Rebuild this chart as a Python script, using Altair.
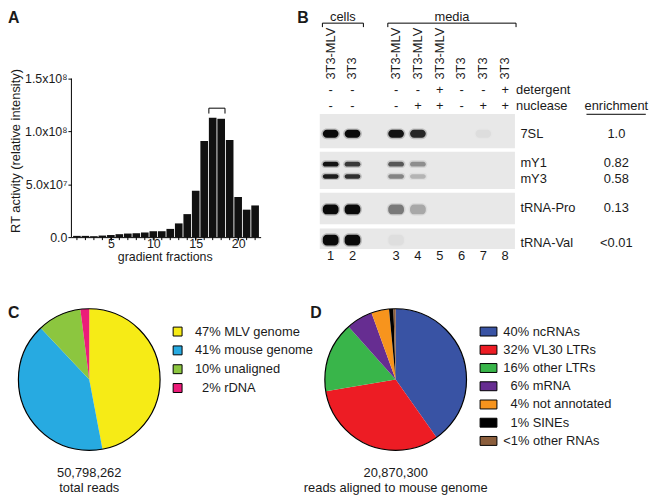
import altair as alt
import pandas as pd

FONT = "Liberation Sans"
INK = "#1a1a1a"
PAD = "\u200b\u2007"  # non-trimmable figure space used to indent single-digit percentages

# ---------------- Panel A : RT activity across gradient fractions ----------------
fractions = list(range(1, 23))
rt_activity = [1.2e6, 1.2e6, 0.9e6, 1.5e6, 2.0e6, 2.8e6, 3.4e6, 3.7e6, 4.4e6, 5.6e6,
               5.6e6, 7.8e6, 13.0e6, 21.8e6, 44.0e6, 91.0e6, 113.0e6, 112.0e6, 92.0e6,
               38.0e6, 26.0e6, 30.0e6]
y_tick_values = [0, 5e7, 1e8, 1.5e8]
y_tick_labels = ["0.0", "5.0x10⁷", "1.0x10⁸", "1.5x10⁸"]
x_labelled_fractions = [5, 10, 15, 20]
pooled_fractions = [17, 18]

# ---------------- Panel B : northern blot ----------------
lanes = [1, 2, 3, 4, 5, 6, 7, 8]
lane_sample = ["3T3-MLV", "3T3", "3T3-MLV", "3T3-MLV", "3T3-MLV", "3T3", "3T3", "3T3"]
lane_source = ["cells", "cells", "media", "media", "media", "media", "media", "media"]
lane_detergent = ["-", "-", "-", "-", "+", "-", "-", "+"]
lane_nuclease = ["-", "-", "-", "+", "+", "-", "+", "+"]
treatments = ["detergent", "nuclease"]
rna_names = ["7SL", "mY1", "mY3", "tRNA-Pro", "tRNA-Val"]
rna_enrichment = ["1.0", "0.82", "0.58", "0.13", "<0.01"]
signal_7SL = [1.0, 1.0, 0.95, 0.85, 0.0, 0.0, 0.04, 0.0]
signal_mY1 = [0.95, 0.75, 0.6, 0.35, 0.0, 0.0, 0.0, 0.0]
signal_mY3 = [0.9, 0.8, 0.4, 0.2, 0.0, 0.0, 0.0, 0.0]
signal_tRNA_Pro = [1.0, 1.0, 0.45, 0.25, 0.0, 0.0, 0.0, 0.0]
signal_tRNA_Val = [1.0, 1.0, 0.03, 0.0, 0.0, 0.0, 0.0, 0.0]
band_migration = [124.7, 155.3, 167.7, 201.0, 232.0]
band_thickness = [8.0, 5.0, 4.5, 10.0, 11.0]
label_migration = [125.0, 154.5, 170.0, 200.0, 235.0]
blot_probe = ["7SL", "mY1/mY3", "tRNA-Pro", "tRNA-Val"]
blot_top = [104.7, 142.7, 184.3, 220.3]
blot_bottom = [139.3, 180.3, 216.0, 241.0]

# ---------------- Panel C : all reads ----------------
c_labels = ["47% MLV genome", "41% mouse genome", "10% unaligned", PAD + "2% rDNA"]
c_values = [47, 41, 10, 2]
c_colors = ["#F6EB16", "#27AAE1", "#8CC63F", "#EC1C79"]
c_caption = "50,798,262\ntotal reads"

# ---------------- Panel D : reads aligned to mouse genome ----------------
d_labels = ["40% ncRNAs", "32% VL30 LTRs", "16% other LTRs", PAD + "6% mRNA",
            PAD + "4% not annotated", PAD + "1% SINEs", "<1% other RNAs"]
d_values = [40, 32, 16, 6, 4, 1, 0.5]
d_colors = ["#3953A4", "#ED1C24", "#39B54A", "#662D91", "#F7941D", "#000000", "#8B5E3C"]
d_caption = "20,870,300\nreads aligned to mouse genome"

# =============================== Panel A ===============================
A_W, A_H = 191, 229
A_AXIS_PX = 160
y_dom_max = y_tick_values[-1] * A_H / A_AXIS_PX
xA = alt.Scale(domain=[0.35, 22.65], nice=False, zero=False)
yA = alt.Scale(domain=[0, y_dom_max], nice=False, zero=True)
y_label_expr = "".join(f"datum.value == {v} ? '{l}' : " for v, l in zip(y_tick_values, y_tick_labels)) + "''"
X_TITLE = "gradient fractions"
Y_TITLE = "RT activity (relative intensity)"
HALF_BAR = 0.45

dfA = pd.DataFrame({"fraction": fractions, "rt": rt_activity})
bars = alt.Chart(dfA).transform_calculate(
    x0=f"datum.fraction - {HALF_BAR}", x1=f"datum.fraction + {HALF_BAR}"
).mark_rect(color="#111111").encode(
    x=alt.X("x0:Q", scale=xA, title=None,
            axis=alt.Axis(values=x_labelled_fractions, format="d", labelAngle=0, tickSize=3,
                          labelPadding=-2.5, labelOverlap=False, labelFlush=False,
                          labelFontSize=12.5)),
    x2="x1:Q",
    y=alt.Y("rt:Q", scale=yA, title=None,
            axis=alt.Axis(values=y_tick_values, labelExpr=y_label_expr, domain=False,
                          tickSize=3.5, labelPadding=1, labelFontSize=12.5,
                          labelOverlap=False)),
    y2=alt.datum(0),
)
minor_ticks = alt.Chart(dfA).mark_rule(color="black").encode(
    x=alt.X("fraction:Q", scale=xA, title=None), y=alt.value(A_H), y2=alt.value(A_H + 3))
yline = alt.Chart(pd.DataFrame({"lo": [y_tick_values[0]], "hi": [y_tick_values[-1]]})).mark_rule(
    color="black").encode(x=alt.value(0), y=alt.Y("lo:Q", scale=yA, title=None), y2="hi:Q")

peak = max(rt_activity)
dfBr = pd.DataFrame({"first": [pooled_fractions[0] - HALF_BAR], "last": [pooled_fractions[-1] + HALF_BAR],
                     "top": [peak * 1.08], "foot": [peak * 1.035]})
br_h = alt.Chart(dfBr).mark_rule(color="black").encode(
    x=alt.X("first:Q", scale=xA, title=None), x2="last:Q",
    y=alt.Y("top:Q", scale=yA, title=None))
br_l = alt.Chart(dfBr).mark_rule(color="black").encode(
    x=alt.X("first:Q", scale=xA, title=None),
    y=alt.Y("top:Q", scale=yA, title=None), y2="foot:Q")
br_r = alt.Chart(dfBr).mark_rule(color="black").encode(
    x=alt.X("last:Q", scale=xA, title=None),
    y=alt.Y("top:Q", scale=yA, title=None), y2="foot:Q")
x_title = alt.Chart(pd.DataFrame({"t": [X_TITLE]})).mark_text(
    fontSize=12.5, baseline="middle", align="center").encode(
    text="t:N", x=alt.value(94.7), y=alt.value(A_H + 20))
y_title = alt.Chart(pd.DataFrame({"t": [Y_TITLE]})).mark_text(
    fontSize=13, baseline="middle", align="center", angle=270).encode(
    text="t:N", x=alt.value(-56), y=alt.value(142))
letterA = alt.Chart(pd.DataFrame({"panel": ["A"]})).mark_text(
    align="left", baseline="top", fontSize=16, fontWeight="bold").encode(
    text="panel:N", x=alt.value(-64), y=alt.value(0))

panel_A = alt.layer(bars, minor_ticks, yline, br_h, br_l, br_r, x_title, y_title,
                    letterA).properties(width=A_W, height=A_H)

# =============================== Panel B ===============================
B_W, B_H = 197, 241
xB = alt.Scale(domain=[0.5, 9.45], nice=False, zero=False)
yB = alt.Scale(domain=[0, B_H], nice=False, zero=False, reverse=True)
ROW_GROUP, ROW_BRACKET, ROW_BRACKET_FOOT = 6.5, 13, 17
ROW_SAMPLE, ROW_DET, ROW_NUC, ROW_LANE = 70, 81, 97, 248
COL_TREAT, COL_RNA, COL_ENR = 9.5, 9.7, 14.1
slot_expr = "datum.lane + (datum.source == 'media' ? 1 : 0)"

dfLanes = pd.DataFrame({"lane": lanes, "sample": lane_sample, "source": lane_source,
                        "detergent": lane_detergent, "nuclease": lane_nuclease})
signals = [signal_7SL, signal_mY1, signal_mY3, signal_tRNA_Pro, signal_tRNA_Val]
band_rows = []
for rna, pos, thick, sig in zip(rna_names, band_migration, band_thickness, signals):
    for lane, src, v in zip(lanes, lane_source, sig):
        if v > 0:
            band_rows.append({"rna": rna, "lane": lane, "source": src, "pos": pos,
                              "thick": thick, "intensity": v})
dfBands = pd.DataFrame(band_rows)

dfBlots = pd.DataFrame({"probe": blot_probe, "top": blot_top, "bottom": blot_bottom,
                        "left": [0.5] * 4, "right": [9.45] * 4})
blots = alt.Chart(dfBlots).mark_rect(color="#e8e8e8").encode(
    x=alt.X("left:Q", scale=xB, axis=None), x2="right:Q",
    y=alt.Y("top:Q", scale=yB, axis=None), y2="bottom:Q")

band_base = alt.Chart(dfBands).transform_calculate(slot=slot_expr)
halo = band_base.transform_calculate(
    x0="datum.slot - 0.43", x1="datum.slot + 0.43",
    y0="datum.pos - datum.thick/2 - 1.4", y1="datum.pos + datum.thick/2 + 1.4",
    op="datum.intensity * 0.22").mark_rect(color="#111111", cornerRadius=6).encode(
    x=alt.X("x0:Q", scale=xB, axis=None), x2="x1:Q",
    y=alt.Y("y0:Q", scale=yB, axis=None), y2="y1:Q",
    opacity=alt.Opacity("op:Q", scale=None, legend=None))
core = band_base.transform_calculate(
    x0="datum.slot - 0.36", x1="datum.slot + 0.36",
    y0="datum.pos - datum.thick/2", y1="datum.pos + datum.thick/2").mark_rect(
    color="#0a0a0a", cornerRadius=4).encode(
    x=alt.X("x0:Q", scale=xB, axis=None), x2="x1:Q",
    y=alt.Y("y0:Q", scale=yB, axis=None), y2="y1:Q",
    opacity=alt.Opacity("intensity:Q", scale=None, legend=None))

dfLanes["row_sample"] = ROW_SAMPLE
dfLanes["row_det"] = ROW_DET
dfLanes["row_nuc"] = ROW_NUC
dfLanes["row_lane"] = ROW_LANE
lane_base = alt.Chart(dfLanes).transform_calculate(slot=slot_expr)
sample_txt = lane_base.mark_text(angle=270, align="left", baseline="middle", fontSize=13).encode(
    x=alt.X("slot:Q", scale=xB, axis=None), y=alt.Y("row_sample:Q", scale=yB, axis=None),
    text="sample:N")
det_txt = lane_base.mark_text(baseline="middle", fontSize=13).encode(
    x=alt.X("slot:Q", scale=xB, axis=None), y=alt.Y("row_det:Q", scale=yB, axis=None),
    text="detergent:N")
nuc_txt = lane_base.mark_text(baseline="middle", fontSize=13).encode(
    x=alt.X("slot:Q", scale=xB, axis=None), y=alt.Y("row_nuc:Q", scale=yB, axis=None),
    text="nuclease:N")
lane_txt = lane_base.mark_text(baseline="middle", fontSize=13).encode(
    x=alt.X("slot:Q", scale=xB, axis=None), y=alt.Y("row_lane:Q", scale=yB, axis=None),
    text="lane:N")
treat_txt = alt.Chart(pd.DataFrame({"treatment": treatments, "row": [ROW_DET, ROW_NUC],
                                    "col": [COL_TREAT, COL_TREAT]})).mark_text(
    align="left", baseline="middle", fontSize=13).encode(
    x=alt.X("col:Q", scale=xB, axis=None), y=alt.Y("row:Q", scale=yB, axis=None),
    text="treatment:N")

grp = lane_base.transform_aggregate(first="min(slot)", last="max(slot)", groupby=["source"]).transform_calculate(
    start="datum.first - 0.38", end="datum.last + 0.5",
    mid="(datum.first - 0.38 + datum.last + 0.5) / 2",
    r_top=str(ROW_BRACKET), r_foot=str(ROW_BRACKET_FOOT), r_text=str(ROW_GROUP))
grp_h = grp.mark_rule(color="black").encode(
    x=alt.X("start:Q", scale=xB, axis=None), x2="end:Q",
    y=alt.Y("r_top:Q", scale=yB, axis=None))
grp_l = grp.mark_rule(color="black").encode(
    x=alt.X("start:Q", scale=xB, axis=None),
    y=alt.Y("r_top:Q", scale=yB, axis=None), y2="r_foot:Q")
grp_r = grp.mark_rule(color="black").encode(
    x=alt.X("end:Q", scale=xB, axis=None),
    y=alt.Y("r_top:Q", scale=yB, axis=None), y2="r_foot:Q")
grp_t = grp.mark_text(baseline="middle", fontSize=13).encode(
    x=alt.X("mid:Q", scale=xB, axis=None), y=alt.Y("r_text:Q", scale=yB, axis=None),
    text="source:N")

dfRNA = pd.DataFrame({"rna": rna_names, "label_pos": label_migration, "enrichment": rna_enrichment,
                      "col_rna": COL_RNA, "col_enr": COL_ENR})
rna_txt = alt.Chart(dfRNA).mark_text(align="left", baseline="middle", fontSize=13).encode(
    x=alt.X("col_rna:Q", scale=xB, axis=None), y=alt.Y("label_pos:Q", scale=yB, axis=None),
    text="rna:N")
enr_txt = alt.Chart(dfRNA).mark_text(align="center", baseline="middle", fontSize=13).encode(
    x=alt.X("col_enr:Q", scale=xB, axis=None), y=alt.Y("label_pos:Q", scale=yB, axis=None),
    text="enrichment:N")
dfHead = pd.DataFrame({"h": ["enrichment"], "col": [COL_ENR], "row": [ROW_NUC],
                       "u0": [12.73], "u1": [15.45], "urow": [ROW_NUC + 8]})
enr_head = alt.Chart(dfHead).mark_text(align="center", baseline="middle", fontSize=13).encode(
    x=alt.X("col:Q", scale=xB, axis=None), y=alt.Y("row:Q", scale=yB, axis=None), text="h:N")
enr_line = alt.Chart(dfHead).mark_rule(color="black").encode(
    x=alt.X("u0:Q", scale=xB, axis=None), x2="u1:Q", y=alt.Y("urow:Q", scale=yB, axis=None))
letterB = alt.Chart(pd.DataFrame({"panel": ["B"]})).mark_text(
    align="left", baseline="top", fontSize=16, fontWeight="bold").encode(
    text="panel:N", x=alt.value(-22.7), y=alt.value(0))

panel_B = alt.layer(blots, halo, core, sample_txt, det_txt, nuc_txt, lane_txt, treat_txt,
                    grp_h, grp_l, grp_r, grp_t, rna_txt, enr_txt, enr_head, enr_line,
                    letterB).properties(width=B_W, height=B_H)


# =============================== Panels C, D ===============================
PIE_H, PIE_R = 143, 71.5


def pie(letter, labels, values, colors, caption, view_w, symbol_type, symbol_size,
        legend_x, legend_y, label_offset, row_padding, letter_x):
    df = pd.DataFrame({"category": labels, "share": values, "order": list(range(len(labels)))})
    arcs = alt.Chart(df).mark_arc(radius=PIE_R).encode(
        theta=alt.Theta("share:Q", stack=True),
        color=alt.Color("category:N", sort=labels,
                        scale=alt.Scale(domain=labels, range=colors),
                        legend=alt.Legend(orient="none", legendX=legend_x, legendY=legend_y,
                                          title=None, symbolType=symbol_type,
                                          symbolSize=symbol_size, symbolStrokeColor="black",
                                          symbolStrokeWidth=1, symbolOpacity=1,
                                          labelFontSize=13, labelOffset=label_offset,
                                          rowPadding=row_padding, padding=0, labelLimit=400,
                                          labelColor=INK)),
        order=alt.Order("order:Q"))
    outline = alt.Chart(pd.DataFrame({"outline": [1]})).mark_point(
        shape="circle", size=(2 * PIE_R) ** 2, filled=False, stroke="black",
        strokeWidth=1.2, opacity=1).encode(x=alt.value(view_w / 2), y=alt.value(PIE_H / 2))
    cap = alt.Chart(pd.DataFrame({"caption": [caption]})).mark_text(
        align="center", baseline="top", fontSize=13, lineBreak="\n", lineHeight=15).encode(
        text="caption:N", x=alt.value(view_w / 2), y=alt.value(159.5))
    let = alt.Chart(pd.DataFrame({"panel": [letter]})).mark_text(
        align="left", baseline="top", fontSize=16, fontWeight="bold").encode(
        text="panel:N", x=alt.value(letter_x), y=alt.value(-4))
    return alt.layer(arcs, outline, cap, let).properties(width=view_w, height=PIE_H)


panel_C = pie("C", c_labels, c_values, c_colors, c_caption, 36, "square", 81,
              100.7, 16.5, 11, 5, -64)
panel_D = pie("D", d_labels, d_values, d_colors, d_caption, 153.2, "M-1,-0.53H1V0.53H-1Z", 289,
              161.3, 14, 6, 2.4, -9.7)

chart = alt.concat(panel_A, panel_B, panel_C, panel_D, columns=2,
                   spacing={"row": 60.3, "column": 59.7}, bounds="flush", align="each"
                   ).resolve_scale(color="independent", theta="independent").properties(
    padding=0
).configure(font=FONT).configure_view(stroke=None).configure_axis(
    grid=False, labelColor=INK, titleColor=INK, domainColor="black", tickColor="black",
    labelFont=FONT, titleFont=FONT
).configure_text(color=INK, font=FONT).configure_legend(labelFont=FONT)

chart.save("out.html", embed_options={"renderer": "svg", "actions": False})
